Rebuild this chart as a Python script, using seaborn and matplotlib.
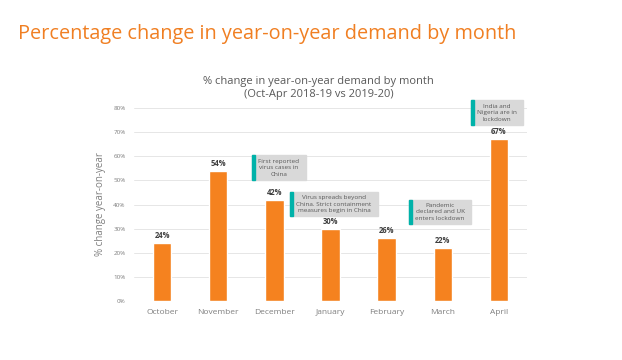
import matplotlib
matplotlib.use("Agg")
import matplotlib.pyplot as plt
import matplotlib.patches as mpatches
import seaborn as sns
import pandas as pd

# data
months = ["October", "November", "December", "January", "February", "March", "April"]
pct_change = [24, 54, 42, 30, 26, 22, 67]
yticks = [0, 10, 20, 30, 40, 50, 60, 70, 80]

# event notes: (text, x category position, y value of box centre)
note_texts = [
    "First reported\nvirus cases in\nChina",
    "Virus spreads beyond\nChina. Strict containment\nmeasures begin in China",
    "Pandemic\ndeclared and UK\nenters lockdown",
    "India and\nNigeria are in\nlockdown",
]
note_x = [2.08, 3.06, 4.95, 5.96]
note_y = [55.2, 40.2, 36.9, 78.0]

ORANGE = "#F5821F"
TEAL = "#00B2A9"
GREY_TXT = "#7F7F7F"

sns.set_style("white")
plt.rcParams["font.family"] = ["Open Sans", "DejaVu Sans"]

df = pd.DataFrame({"month": months, "pct": pct_change})

fig = plt.figure(figsize=(6.22, 3.6), dpi=100)
ax = fig.add_axes([0.2154, 0.1639, 0.632, 0.536])

sns.barplot(data=df, x="month", y="pct", color=ORANGE, width=0.33,
            saturation=1, ax=ax, zorder=3)

ax.set_ylim(0, 80)
ax.set_xlim(-0.5, 6.5)
ax.set_yticks(yticks)
ax.set_yticklabels([f"{t}%" for t in yticks], fontsize=4.5, color=GREY_TXT)
ax.tick_params(axis="x", labelsize=6, colors=GREY_TXT, length=0, pad=6)
ax.tick_params(axis="y", length=0, pad=6)
ax.grid(axis="y", color="#E6E6E6", linewidth=0.7, zorder=0)
sns.despine(ax=ax, left=True, bottom=True)
ax.set_xlabel("")
ax.set_ylabel("% change year-on-year", fontsize=7, color=GREY_TXT, labelpad=5)

# value labels
for i, v in enumerate(pct_change):
    ax.text(i, v + 1.2, f"{v}%", ha="center", va="bottom", fontsize=5.5,
            fontweight="bold", color="#404040")

# event notes with teal marker on the left
note_artists = []
for txt, x, y in zip(note_texts, note_x, note_y):
    t = ax.text(x, y, txt, ha="center", va="center", fontsize=4.6,
                color="#595959", linespacing=1.3, zorder=5,
                bbox=dict(boxstyle="square,pad=0.35", fc="#D9D9D9", ec="none"))
    note_artists.append(t)

fig.canvas.draw()
renderer = fig.canvas.get_renderer()
for t in note_artists:
    patch = t.get_bbox_patch()
    bb = patch.get_window_extent(renderer)
    # widen the grey box a bit
    x0, y0 = fig.transFigure.inverted().transform((bb.x0 - 4, bb.y0 - 1.5))
    x1, y1 = fig.transFigure.inverted().transform((bb.x1 + 4, bb.y1 + 1.5))
    patch.set_visible(False)
    fig.add_artist(mpatches.Rectangle((x0, y0), x1 - x0, y1 - y0,
                                      transform=fig.transFigure,
                                      color="#D9D9D9", zorder=4))
    fig.add_artist(mpatches.Rectangle((x0, y0), 3.0 / 622, y1 - y0,
                                      transform=fig.transFigure,
                                      color=TEAL, zorder=6))
    t.remove()
    t.set_zorder(7)
    fig.add_artist(t)

# titles
fig.text(0.029, 0.905, "Percentage change in year-on-year demand by month",
         fontsize=14.3, color="#F07F22", ha="left", va="center")
fig.text(0.512, 0.755, "% change in year-on-year demand by month\n(Oct-Apr 2018-19 vs 2019-20)",
         fontsize=8, color="#595959", ha="center", va="center", linespacing=1.3)

fig.savefig("out.png", dpi=100)
